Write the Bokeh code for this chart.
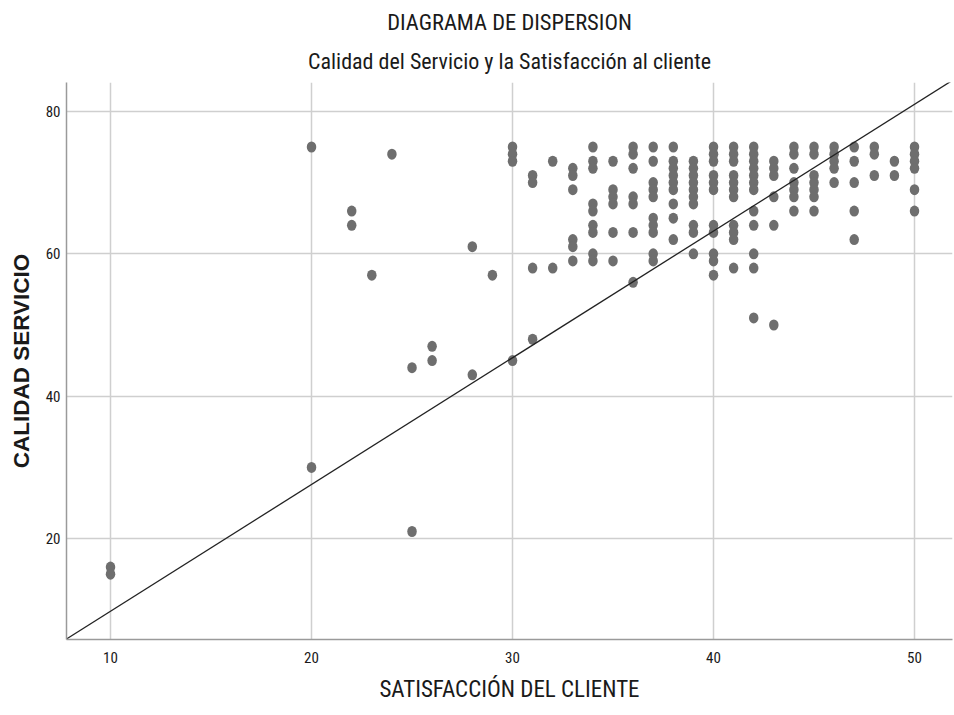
from bokeh.plotting import figure
from bokeh.models import Title, FixedTicker, Range1d
from bokeh.embed import file_html
from bokeh.resources import INLINE

# ---- data ----
satisfaccion = (
    [10, 10, 20, 20, 22, 22, 23, 24, 25, 25, 26, 26, 28, 28, 29]
    + [30] * 4 + [31] * 4 + [32] * 2 + [33] * 6 + [34] * 9 + [35] * 6 + [36] * 7
    + [37] * 10 + [38] * 9 + [39] * 10 + [40] * 11 + [41] * 11 + [42] * 12
    + [43] * 6 + [44] * 7 + [45] * 7 + [46] * 5 + [47] * 5 + [48] * 3 + [49] * 2 + [50] * 6
)
calidad = (
    [16, 15, 75, 30, 66, 64, 57, 74, 44, 21, 47, 45, 61, 43, 57]
    + [75, 74, 73, 45]
    + [71, 70, 58, 48]
    + [73, 58]
    + [72, 71, 69, 62, 61, 59]
    + [75, 73, 72, 67, 66, 64, 63, 60, 59]
    + [73, 69, 68, 67, 63, 59]
    + [75, 74, 72, 68, 67, 63, 56]
    + [75, 73, 70, 69, 68, 65, 64, 63, 60, 59]
    + [75, 73, 72, 71, 70, 69, 67, 65, 62]
    + [73, 72, 71, 70, 69, 68, 67, 64, 63, 60]
    + [75, 74, 73, 71, 70, 69, 64, 63, 60, 59, 57]
    + [75, 74, 73, 71, 70, 69, 68, 64, 63, 62, 58]
    + [75, 74, 73, 72, 71, 70, 69, 66, 64, 60, 58, 51]
    + [73, 72, 71, 68, 64, 50]
    + [75, 74, 72, 70, 69, 68, 66]
    + [75, 74, 71, 70, 69, 68, 66]
    + [75, 74, 73, 72, 70]
    + [75, 73, 70, 66, 62]
    + [75, 74, 71]
    + [73, 71]
    + [75, 74, 73, 72, 69, 66]
)
x_ticks = [10, 20, 30, 40, 50]
y_ticks = [20, 40, 60, 80]
line_slope = 1.78
line_intercept = -8.0

titulo = "DIAGRAMA DE DISPERSION"
subtitulo = "Calidad del Servicio y la Satisfacción al cliente"
x_label = "SATISFACCIÓN DEL CLIENTE"
y_label = "CALIDAD SERVICIO"

# ---- layout / style ----
X0, X1 = 7.81, 51.89
Y0, Y1 = 5.83, 84.06
NARROW = "Roboto Condensed, Noto Sans Condensed, DejaVu Sans Condensed, Liberation Sans, sans-serif"
TEXT = "#1a1a1a"

p = figure(width=954, height=715,
           x_range=Range1d(X0, X1), y_range=Range1d(Y0, Y1),
           output_backend="svg", toolbar_location=None, title_location=None,
           min_border_left=66, min_border_right=2,
           min_border_top=82, min_border_bottom=76)
p.outline_line_color = None
p.background_fill_color = "white"
p.border_fill_color = "white"

p.add_layout(Title(text=subtitulo, align="center", offset=-30, standoff=17,
                   text_font=NARROW, text_font_size="22px",
                   text_font_style="normal", text_color=TEXT), "above")
p.add_layout(Title(text=titulo, align="center", offset=-30, standoff=8,
                   text_font=NARROW, text_font_size="22.5px",
                   text_font_style="normal", text_color=TEXT), "above")

for ax, ticks in ((p.xaxis[0], x_ticks), (p.yaxis[0], y_ticks)):
    ax.ticker = FixedTicker(ticks=ticks)
    ax.major_tick_out = 0
    ax.major_tick_in = 0
    ax.minor_tick_line_color = None
    ax.major_tick_line_color = None
    ax.axis_line_color = "#9a9a9a"
    ax.axis_line_width = 1.5
    ax.major_label_text_font = NARROW
    ax.major_label_text_font_size = "15px"
    ax.major_label_text_color = TEXT

p.xaxis.axis_label = x_label
p.xaxis.axis_label_text_font = NARROW
p.xaxis.axis_label_text_font_size = "23px"
p.xaxis.axis_label_text_font_style = "normal"
p.xaxis.axis_label_text_color = TEXT
p.xaxis.major_label_standoff = 12
p.xaxis.axis_label_standoff = 10

p.yaxis.axis_label = y_label
p.yaxis.axis_label_text_font = "Liberation Sans, Arial, sans-serif"
p.yaxis.axis_label_text_font_size = "22.5px"
p.yaxis.axis_label_text_font_style = "bold"
p.yaxis.axis_label_text_color = TEXT
p.yaxis.major_label_standoff = 6
p.yaxis.axis_label_standoff = 9

p.xgrid.ticker = FixedTicker(ticks=x_ticks)
p.ygrid.ticker = FixedTicker(ticks=y_ticks)
for g in (p.xgrid[0], p.ygrid[0]):
    g.grid_line_color = "#cfcfcf"
    g.grid_line_width = 1.5

p.ellipse(x=satisfaccion, y=calidad, width=9.5, height=11,
          width_units="screen", height_units="screen",
          fill_color="#6e6e6e", line_color=None)

lx = [X0, X1]
ly = [line_slope * v + line_intercept for v in lx]
p.line(x=lx, y=ly, line_color="#222222", line_width=1.3)

open("out.html", "w").write(file_html(p, INLINE))
